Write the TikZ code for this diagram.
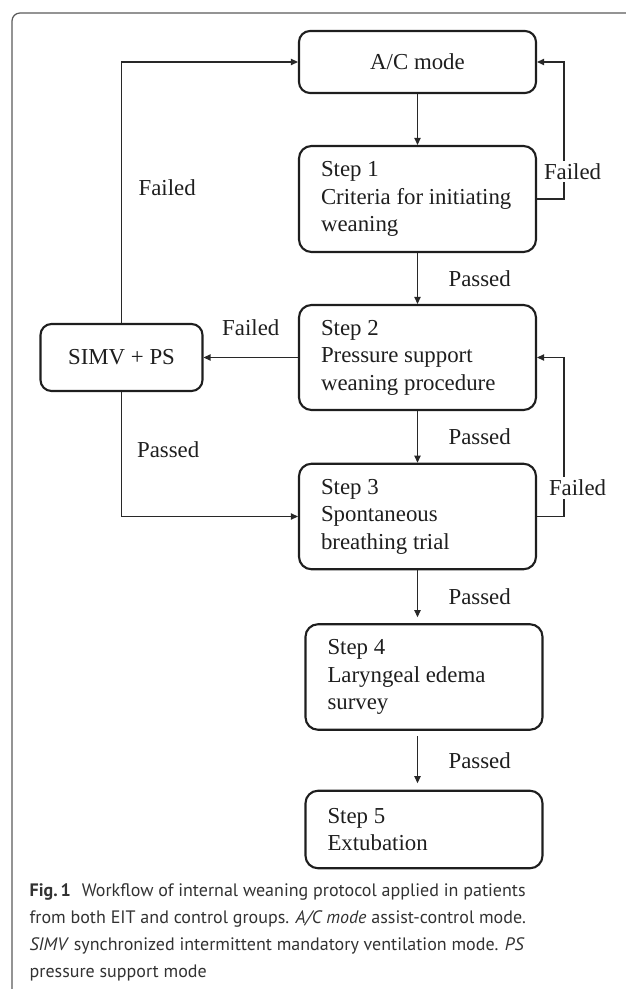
\documentclass[tikz,border=0pt]{standalone}
\usepackage{fontspec}
\setmainfont{Liberation Serif}
\newfontfamily\capfont{PT Sans}
\usetikzlibrary{arrows.meta,positioning,calc}
\definecolor{boxcol}{RGB}{30,30,30}
\definecolor{linecol}{RGB}{40,40,40}
\definecolor{framecol}{RGB}{90,90,90}
\definecolor{capcol}{RGB}{50,50,50}

\begin{document}
\begin{tikzpicture}[
  stepbox/.style={draw=boxcol,line width=1.2pt,rounded corners=0.25cm,text width=3.86cm,
    inner xsep=0.44cm,align=flush left,font=\fontsize{13}{15.7}\selectfont,text=boxcol},
  modebox/.style={draw=boxcol,line width=1.2pt,rounded corners=0.22cm,align=center,
    font=\fontsize{13}{15.7}\selectfont,text=boxcol},
  lab/.style={inner sep=0pt,font=\fontsize{13}{15.7}\selectfont,text=boxcol},
  arr/.style={draw=linecol,line width=0.7pt,-{Triangle[length=4pt,width=3.6pt]}}]
  \useasboundingbox (0,0) rectangle (12.5,-19.78);
  % frame round the figure
  \draw[framecol,line width=0.7pt,rounded corners=0.16cm] (13,-0.26) -- (0.24,-0.26) -- (0.24,-20.5);
  % the boxes
  \node[modebox,minimum width=4.74cm,minimum height=1.24cm] (ac) at (8.35,-1.24) {A/C mode};
  \node[stepbox,minimum height=2.12cm] (s1) at (8.35,-3.98) {Step 1\\Criteria~for~initiating\\weaning};
  \node[stepbox,minimum height=2.10cm] (s2) at (8.35,-7.15) {Step 2\\Pressure support\\weaning~procedure};
  \node[stepbox,minimum height=2.11cm] (s3) at (8.35,-10.33) {Step 3\\Spontaneous\\breathing trial};
  \node[stepbox,minimum height=2.11cm] (s4) at (8.48,-13.54) {Step 4\\Laryngeal edema\\survey};
  \node[stepbox,minimum height=1.55cm] (s5) at (8.48,-16.59) {Step 5\\Extubation};
  \node[modebox,minimum width=3.24cm,minimum height=1.34cm] (simv) at (2.43,-7.15) {SIMV + PS};
  % passed: down the column
  \draw[arr] (ac) -- (s1);
  \draw[arr] (s1) -- node[lab,right=0.61cm] {Passed} (s2);
  \draw[arr] (s2) -- node[lab,right=0.61cm] {Passed} (s3);
  \draw[arr,shorten >=0.12cm] (s3) -- node[lab,right=0.61cm] {Passed} (s3 |- s4.north);
  \draw[arr,shorten <=0.11cm,shorten >=0.13cm] (s4.south -| s3) -- node[lab,right=0.61cm] {Passed} (s5.north -| s3);
  % failed: back up
  \draw[arr] (s1.east) -- ++(0.54,0) |- node[lab,fill=white,inner sep=1.5pt,pos=0.1,xshift=0.17cm] {Failed} (ac.east);
  \draw[arr] (s3.east) -- ++(0.54,0) |- node[lab,fill=white,inner sep=1.5pt,pos=0.09,xshift=0.27cm] {Failed} (s2.east);
  \draw[arr] (s2) -- node[lab,above=0.42cm] {Failed} (simv);
  \draw[arr] (simv) |- node[lab,pos=0.26,right=0.33cm] {Failed} (ac);
  \draw[arr] (simv) |- node[lab,pos=0.23,right=0.3cm] {Passed} (s3);
  % caption
  \node[anchor=north west,inner sep=0pt,text=capcol,font=\capfont] (cap) at (0.586,-17.66)
    {\parbox[t]{11.6cm}{\fontsize{10.25}{15.5}\selectfont\raggedright
     \textbf{Fig.\,1}\hspace{0.6em}Workflow of internal weaning protocol applied in patients\newline
     from both EIT and control groups. \textit{A/C mode} assist-control mode.\newline
     \textit{SIMV} synchronized intermittent mandatory ventilation mode. \textit{PS}\newline
     pressure support mode\par}};
\end{tikzpicture}
\end{document}
